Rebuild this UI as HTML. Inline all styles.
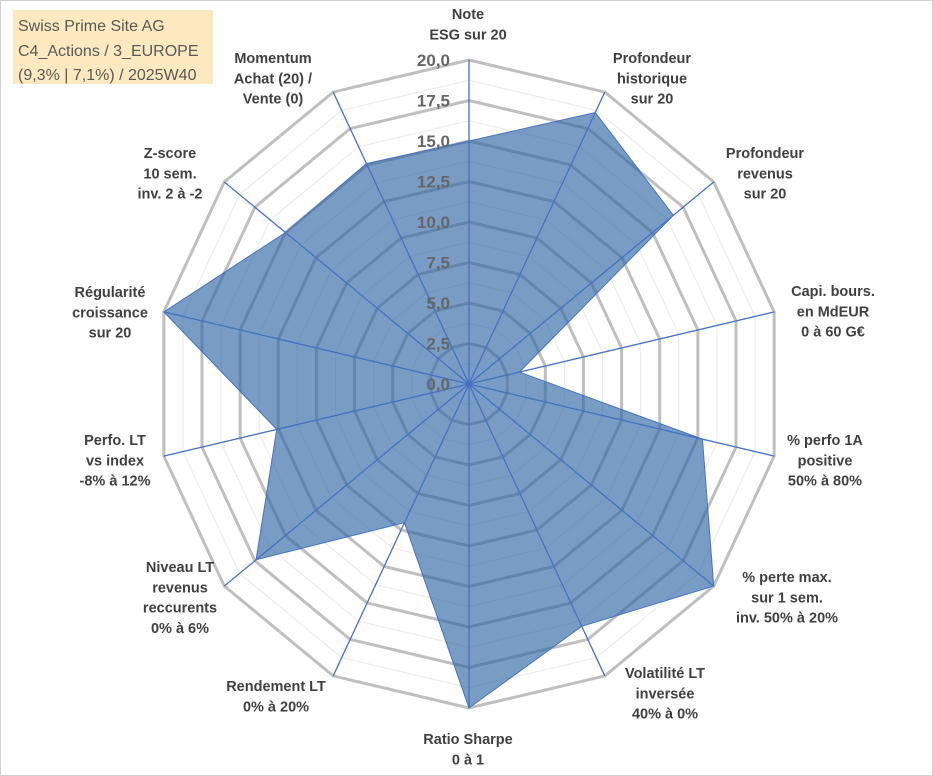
<!DOCTYPE html>
<html><head><meta charset="utf-8"><style>
html,body{margin:0;padding:0;background:#fff}
svg{display:block}
text{font-family:"Liberation Sans",sans-serif}
</style></head><body>
<svg id="chart" width="933" height="776" viewBox="0 0 933 776">
<rect x="0.5" y="0.5" width="932" height="775" fill="#fff" stroke="#d0d0d0"/>
<rect x="13" y="10" width="200" height="74" fill="#fde9bf"/>
<text x="18" y="31" font-size="16" fill="#595959">Swiss Prime Site AG</text>
<text x="18" y="56" font-size="16" fill="#595959">C4_Actions / 3_EUROPE</text>
<text x="18" y="80" font-size="16" fill="#595959">(9,3% | 7,1%) / 2025W40</text>
<g id="grid"></g><g id="series"></g><g id="axes"></g><g id="ticks"></g><g id="labels"></g>
</svg>
<script>
const categories = [
 ["Note","ESG sur 20"],
 ["Profondeur","historique","sur 20"],
 ["Profondeur","revenus","sur 20"],
 ["Capi. bours.","en MdEUR","0 à 60 G€"],
 ["% perfo 1A","positive","50% à 80%"],
 ["% perte max.","sur 1 sem.","inv. 50% à 20%"],
 ["Volatilité LT","inversée","40% à 0%"],
 ["Ratio Sharpe","0 à 1"],
 ["Rendement LT","0% à 20%"],
 ["Niveau LT","revenus","reccurents","0% à 6%"],
 ["Perfo. LT","vs index","-8% à 12%"],
 ["Régularité","croissance","sur 20"],
 ["Z-score","10 sem.","inv. 2 à -2"],
 ["Momentum","Achat (20) /","Vente (0)"]
];
const values = [15.0,18.6,16.7,3.3,15.3,20.0,16.6,20.0,9.5,17.4,12.6,20.0,15.0,15.1];
const tickLabels = ["0,0","2,5","5,0","7,5","10,0","12,5","15,0","17,5","20,0"];
const maxVal = 20;
const cx=469, cy=384, rx=313, ry=324;
const labelAnchors=[[468,14],[652,58],[765,153],[833,291],[825,440],[787,577],[665,673],[468,739],[276,686],[180,567],[115,440],[110,292],[170,153],[273,58]];
const NS="http://www.w3.org/2000/svg";
const n=categories.length;
function pt(i,v){const a=i*2*Math.PI/n;return [cx+Math.sin(a)*rx*v/maxVal, cy-Math.cos(a)*ry*v/maxVal];}
function mk(tag,attrs,parent){const e=document.createElementNS(NS,tag);for(const k in attrs)e.setAttribute(k,attrs[k]);parent.appendChild(e);return e;}
const grid=document.getElementById('grid');
for(let k=1;k<=16;k++){
 const v=k*1.25;const pts=[];for(let i=0;i<n;i++)pts.push(pt(i,v).join(','));
 const major=k%2===0;
 const e=mk('polygon',{points:pts.join(' '),fill:'none',stroke:major?'#bfbfbf':'#ececec','stroke-width':major?3:1.2},grid);
 
 
}
const ser=document.getElementById('series');
const sp=values.map((v,i)=>pt(i,v).join(',')).join(' ');
const poly=mk('polygon',{points:sp,fill:'rgba(45,100,165,0.64)',stroke:'#4472c4','stroke-width':1},ser);


const axes=document.getElementById('axes');
for(let i=0;i<n;i++){const p=pt(i,maxVal);
 const l=mk('line',{x1:cx,y1:cy,x2:p[0],y2:p[1],stroke:'#4472c4','stroke-width':1.3},axes);
 
 
}
const ticks=document.getElementById('ticks');
tickLabels.forEach((t,k)=>{const v=k*2.5;const y=cy-ry*v/maxVal;
 const e=mk('text',{x:450,y:y+6,'text-anchor':'end','font-size':17,'font-weight':'bold',fill:'#666'},ticks);
 e.textContent=t;
 
 
});
const labels=document.getElementById('labels');
categories.forEach((lines,i)=>{const [x,y]=labelAnchors[i];
 const g=mk('text',{'text-anchor':'middle','font-size':14.5,'font-weight':'bold',fill:'#404040'},labels);
 
 
 lines.forEach((s,j)=>{const t=mk('tspan',{x:x,y:y+5+j*20.3},g);t.textContent=s;});
});
</script>
</body></html>
